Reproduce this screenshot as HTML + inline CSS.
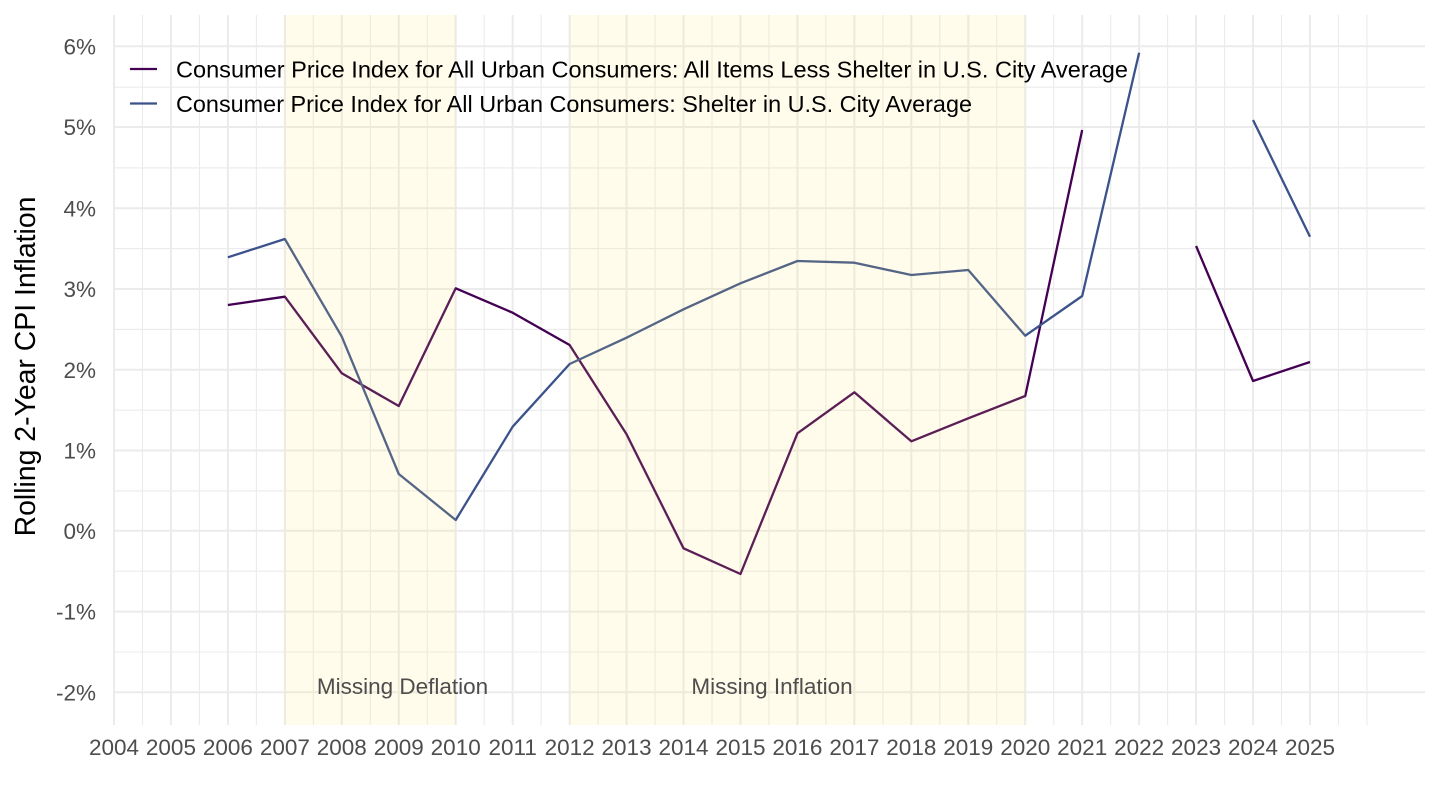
<!DOCTYPE html>
<html>
<head>
<meta charset="utf-8">
<style>
  html, body { margin: 0; padding: 0; background: #ffffff; }
  svg { display: block; }
  text { font-family: "Liberation Sans", Arial, sans-serif; }
</style>
</head>
<body>
<svg width="1440" height="810" viewBox="0 0 1440 810" xmlns="http://www.w3.org/2000/svg">
  <rect x="0" y="0" width="1440" height="810" fill="#ffffff"/>

  <!-- minor vertical gridlines (half years + 2026) -->
  <g stroke="#ebebeb" stroke-width="1.1" fill="none">
    <line x1="142.48" y1="15" x2="142.48" y2="725"/>
    <line x1="199.43" y1="15" x2="199.43" y2="725"/>
    <line x1="256.38" y1="15" x2="256.38" y2="725"/>
    <line x1="313.33" y1="15" x2="313.33" y2="725"/>
    <line x1="370.29" y1="15" x2="370.29" y2="725"/>
    <line x1="427.24" y1="15" x2="427.24" y2="725"/>
    <line x1="484.19" y1="15" x2="484.19" y2="725"/>
    <line x1="541.14" y1="15" x2="541.14" y2="725"/>
    <line x1="598.10" y1="15" x2="598.10" y2="725"/>
    <line x1="655.05" y1="15" x2="655.05" y2="725"/>
    <line x1="712.00" y1="15" x2="712.00" y2="725"/>
    <line x1="768.95" y1="15" x2="768.95" y2="725"/>
    <line x1="825.90" y1="15" x2="825.90" y2="725"/>
    <line x1="882.86" y1="15" x2="882.86" y2="725"/>
    <line x1="939.81" y1="15" x2="939.81" y2="725"/>
    <line x1="996.76" y1="15" x2="996.76" y2="725"/>
    <line x1="1053.71" y1="15" x2="1053.71" y2="725"/>
    <line x1="1110.67" y1="15" x2="1110.67" y2="725"/>
    <line x1="1167.62" y1="15" x2="1167.62" y2="725"/>
    <line x1="1224.57" y1="15" x2="1224.57" y2="725"/>
    <line x1="1281.52" y1="15" x2="1281.52" y2="725"/>
    <line x1="1338.48" y1="15" x2="1338.48" y2="725"/>
    <line x1="1366.95" y1="15" x2="1366.95" y2="725"/>
  </g>
  <!-- minor horizontal gridlines -->
  <g stroke="#ebebeb" stroke-width="1.1" fill="none">
    <line x1="113" y1="87.2" x2="1425" y2="87.2"/>
    <line x1="113" y1="167.9" x2="1425" y2="167.9"/>
    <line x1="113" y1="248.6" x2="1425" y2="248.6"/>
    <line x1="113" y1="329.4" x2="1425" y2="329.4"/>
    <line x1="113" y1="410.2" x2="1425" y2="410.2"/>
    <line x1="113" y1="490.9" x2="1425" y2="490.9"/>
    <line x1="113" y1="571.2" x2="1425" y2="571.2"/>
    <line x1="113" y1="652.0" x2="1425" y2="652.0"/>
  </g>
  <!-- major vertical gridlines -->
  <g stroke="#ebebeb" stroke-width="2" fill="none">
    <line x1="114" y1="15" x2="114" y2="725"/>
    <line x1="170.95" y1="15" x2="170.95" y2="725"/>
    <line x1="227.90" y1="15" x2="227.90" y2="725"/>
    <line x1="284.86" y1="15" x2="284.86" y2="725"/>
    <line x1="341.81" y1="15" x2="341.81" y2="725"/>
    <line x1="398.76" y1="15" x2="398.76" y2="725"/>
    <line x1="455.71" y1="15" x2="455.71" y2="725"/>
    <line x1="512.67" y1="15" x2="512.67" y2="725"/>
    <line x1="569.62" y1="15" x2="569.62" y2="725"/>
    <line x1="626.57" y1="15" x2="626.57" y2="725"/>
    <line x1="683.52" y1="15" x2="683.52" y2="725"/>
    <line x1="740.47" y1="15" x2="740.47" y2="725"/>
    <line x1="797.43" y1="15" x2="797.43" y2="725"/>
    <line x1="854.38" y1="15" x2="854.38" y2="725"/>
    <line x1="911.33" y1="15" x2="911.33" y2="725"/>
    <line x1="968.28" y1="15" x2="968.28" y2="725"/>
    <line x1="1025.24" y1="15" x2="1025.24" y2="725"/>
    <line x1="1082.19" y1="15" x2="1082.19" y2="725"/>
    <line x1="1139.14" y1="15" x2="1139.14" y2="725"/>
    <line x1="1196.09" y1="15" x2="1196.09" y2="725"/>
    <line x1="1253.05" y1="15" x2="1253.05" y2="725"/>
    <line x1="1310.00" y1="15" x2="1310.00" y2="725"/>
  </g>
  <!-- major horizontal gridlines -->
  <g stroke="#ebebeb" stroke-width="2" fill="none">
    <line x1="113" y1="46.3" x2="1425" y2="46.3"/>
    <line x1="113" y1="127.0" x2="1425" y2="127.0"/>
    <line x1="113" y1="208.3" x2="1425" y2="208.3"/>
    <line x1="113" y1="289.0" x2="1425" y2="289.0"/>
    <line x1="113" y1="369.8" x2="1425" y2="369.8"/>
    <line x1="113" y1="450.5" x2="1425" y2="450.5"/>
    <line x1="113" y1="530.8" x2="1425" y2="530.8"/>
    <line x1="113" y1="611.6" x2="1425" y2="611.6"/>
    <line x1="113" y1="692.3" x2="1425" y2="692.3"/>
  </g>

  <!-- series -->
  <g fill="none" stroke-width="2.3" stroke-linejoin="round" stroke-linecap="butt">
    <polyline stroke="#440154" points="227.90,305 284.86,296.7 341.81,373.3 398.76,406 455.71,288.3 512.67,312.7 569.62,345 626.57,434.3 683.52,548.3 740.47,574 797.43,433.3 854.38,392.3 911.33,441.3 968.28,418.3 1025.24,396 1082.19,130"/>
    <polyline stroke="#440154" points="1196.09,246 1253.05,381 1310.00,362"/>
    <polyline stroke="#3b528b" points="227.90,257.3 284.86,239 341.81,336.7 398.76,474 455.71,520 512.67,426.7 569.62,364 626.57,337.7 683.52,309.3 740.47,283.3 797.43,261 854.38,262.7 911.33,275 968.28,270 1025.24,335.7 1082.19,296 1139.14,52.7"/>
    <polyline stroke="#3b528b" points="1253.05,120 1310.00,236.7"/>
  </g>

  <!-- shaded periods (drawn over lines, translucent) -->
  <rect x="284.86" y="15" width="170.85" height="710" fill="rgb(255,235,100)" fill-opacity="0.13"/>
  <rect x="569.62" y="15" width="455.62" height="710" fill="rgb(255,235,100)" fill-opacity="0.13"/>

  <!-- annotations -->
  <text x="402.5" y="694" font-size="22.5" fill="#4d4d4d" text-anchor="middle">Missing Deflation</text>
  <text x="772" y="694" font-size="22.5" fill="#4d4d4d" text-anchor="middle">Missing Inflation</text>

  <!-- legend -->
  <line x1="130" y1="69" x2="157" y2="69" stroke="#440154" stroke-width="2.3"/>
  <line x1="130" y1="103.5" x2="157" y2="103.5" stroke="#3b528b" stroke-width="2.3"/>
  <text x="176" y="77.5" font-size="23.2" fill="#000000" textLength="952" lengthAdjust="spacingAndGlyphs">Consumer Price Index for All Urban Consumers: All Items Less Shelter in U.S. City Average</text>
  <text x="176" y="112" font-size="23.2" fill="#000000" textLength="796" lengthAdjust="spacingAndGlyphs">Consumer Price Index for All Urban Consumers: Shelter in U.S. City Average</text>

  <!-- y tick labels -->
  <g font-size="22.5" fill="#4d4d4d" text-anchor="end">
    <text x="96" y="54.3">6%</text>
    <text x="96" y="135.0">5%</text>
    <text x="96" y="216.3">4%</text>
    <text x="96" y="297.0">3%</text>
    <text x="96" y="377.8">2%</text>
    <text x="96" y="458.5">1%</text>
    <text x="96" y="538.8">0%</text>
    <text x="96" y="619.6">-1%</text>
    <text x="96" y="700.3">-2%</text>
  </g>

  <!-- x tick labels -->
  <g font-size="22.5" fill="#4d4d4d" text-anchor="middle">
    <text x="114" y="755">2004</text>
    <text x="170.95" y="755">2005</text>
    <text x="227.90" y="755">2006</text>
    <text x="284.86" y="755">2007</text>
    <text x="341.81" y="755">2008</text>
    <text x="398.76" y="755">2009</text>
    <text x="455.71" y="755">2010</text>
    <text x="512.67" y="755">2011</text>
    <text x="569.62" y="755">2012</text>
    <text x="626.57" y="755">2013</text>
    <text x="683.52" y="755">2014</text>
    <text x="740.47" y="755">2015</text>
    <text x="797.43" y="755">2016</text>
    <text x="854.38" y="755">2017</text>
    <text x="911.33" y="755">2018</text>
    <text x="968.28" y="755">2019</text>
    <text x="1025.24" y="755">2020</text>
    <text x="1082.19" y="755">2021</text>
    <text x="1139.14" y="755">2022</text>
    <text x="1196.09" y="755">2023</text>
    <text x="1253.05" y="755">2024</text>
    <text x="1310.00" y="755">2025</text>
  </g>

  <!-- y axis title -->
  <text transform="translate(35,366.5) rotate(-90)" font-size="28.4" fill="#000000" text-anchor="middle">Rolling 2-Year CPI Inflation</text>
</svg>
</body>
</html>
